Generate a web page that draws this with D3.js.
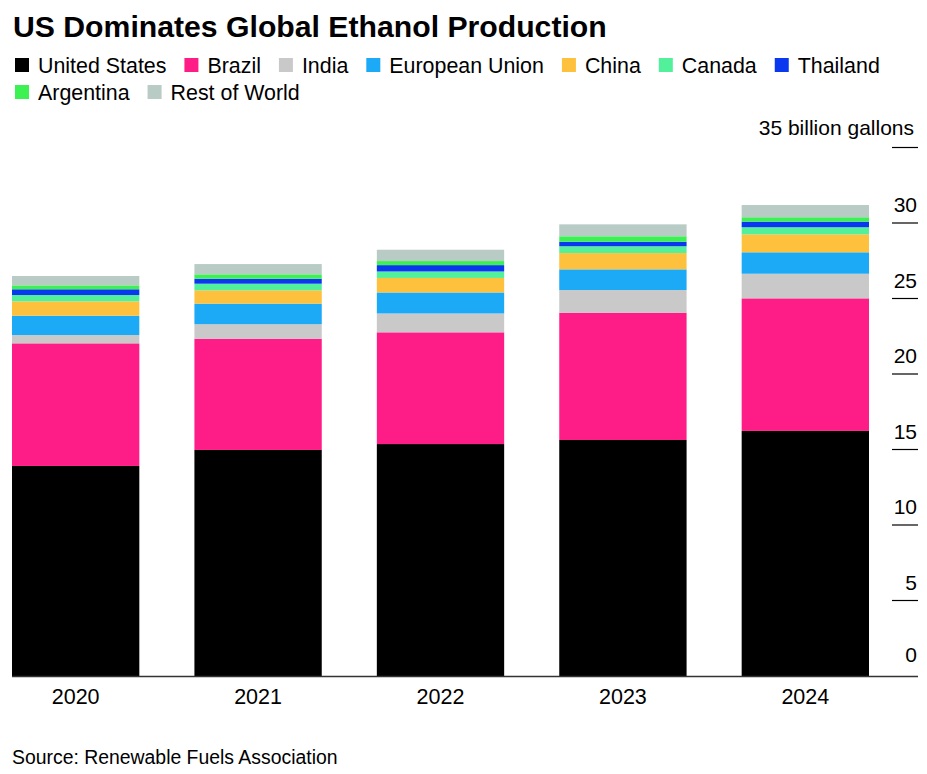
<!DOCTYPE html>
<html><head><meta charset="utf-8">
<script src="https://cdn.jsdelivr.net/npm/d3@7"></script>
<style>
body{margin:0;background:#fff;}
svg{display:block;font-family:"Liberation Sans",Arial,sans-serif;}
</style></head>
<body><svg id="c" width="927" height="774"></svg>
<script>
const years = ["2020","2021","2022","2023","2024"];
const seriesNames = ["United States","Brazil","India","European Union","China","Canada","Thailand","Argentina","Rest of World"];
const colors = ["#000000","#fe1d87","#c9c9c9","#1ca9f6","#fdc13d","#52f09b","#0a38ef","#3cf252","#b8cbc5"];
const unitedStates  = [13.91,14.97,15.36,15.63,16.23];
const brazil        = [8.12,7.37,7.40,8.43,8.78];
const india         = [0.55,0.96,1.25,1.50,1.63];
const europeanUnion = [1.28,1.36,1.39,1.37,1.42];
const china         = [0.95,0.88,0.96,1.08,1.19];
const canada        = [0.42,0.44,0.43,0.45,0.47];
const thailand      = [0.38,0.33,0.42,0.30,0.37];
const argentina     = [0.26,0.29,0.27,0.36,0.29];
const restOfWorld   = [0.62,0.68,0.75,0.79,0.81];
const yTicks = [0,5,10,15,20,25,30,35];

const seriesValues = [unitedStates,brazil,india,europeanUnion,china,canada,thailand,argentina,restOfWorld];
const table = years.map((y,i)=>{const o={year:y}; seriesNames.forEach((n,k)=>o[n]=seriesValues[k][i]); return o;});

const svg = d3.select("#c");
const x = d3.scaleBand().domain(years).range([12,869]).paddingInner(0.302).paddingOuter(0);
const y = d3.scaleLinear().domain([0,35]).range([676,147.5]);

// title
svg.append("text").attr("x",13).attr("y",37).attr("font-size",30.2).attr("font-weight","bold").attr("fill","#000")
  .text("US Dominates Global Ethanol Production");

// legend
const leg = svg.append("g");
let lx = 15, ly = 65;
seriesNames.forEach((n,k)=>{
  const g = leg.append("g");
  const t = g.append("text").attr("x",lx+23).attr("y",ly+7.5).attr("font-size",21.4).attr("fill","#000").text(n);
  const w = t.node().getComputedTextLength();
  if (lx+23+w > 900) { lx = 15; ly += 27; t.attr("x",lx+23).attr("y",ly+7.5); }
  g.append("rect").attr("x",lx).attr("y",ly-7).attr("width",14).attr("height",14).attr("fill",colors[k]);
  lx = lx+23+w+18;
});

// bars
const stack = d3.stack().keys(seriesNames)(table);
svg.append("g").selectAll("g").data(stack).join("g").attr("fill",(d,i)=>colors[i])
  .selectAll("rect").data(d=>d).join("rect")
  .attr("x",d=>x(d.data.year)).attr("width",x.bandwidth())
  .attr("y",d=>y(d[1])).attr("height",d=>y(d[0])-y(d[1]));

// baseline
svg.append("line").attr("x1",12).attr("x2",918).attr("y1",y(0)+0.5).attr("y2",y(0)+0.5).attr("stroke","#333").attr("stroke-width",1.5);

// y axis ticks
const ya = svg.append("g");
yTicks.forEach(v=>{
  if (v>0) ya.append("line").attr("x1",892).attr("x2",918).attr("y1",y(v)).attr("y2",y(v)).attr("stroke","#000").attr("stroke-width",1.2);
  if (v<35) ya.append("text").attr("x",917).attr("y",y(v)-(v===0?14:11)).attr("text-anchor","end").attr("font-size",21).attr("fill","#000").text(v);
});
svg.append("text").attr("x",914).attr("y",135).attr("text-anchor","end").attr("font-size",21).attr("fill","#000").text("35 billion gallons");

// x labels
svg.append("g").selectAll("text").data(years).join("text")
  .attr("x",d=>x(d)+x.bandwidth()/2).attr("y",704).attr("text-anchor","middle").attr("font-size",21.5).attr("fill","#000").text(d=>d);

// source
svg.append("text").attr("x",12).attr("y",764).attr("font-size",19.4).attr("fill","#000").text("Source: Renewable Fuels Association");
</script></body></html>
